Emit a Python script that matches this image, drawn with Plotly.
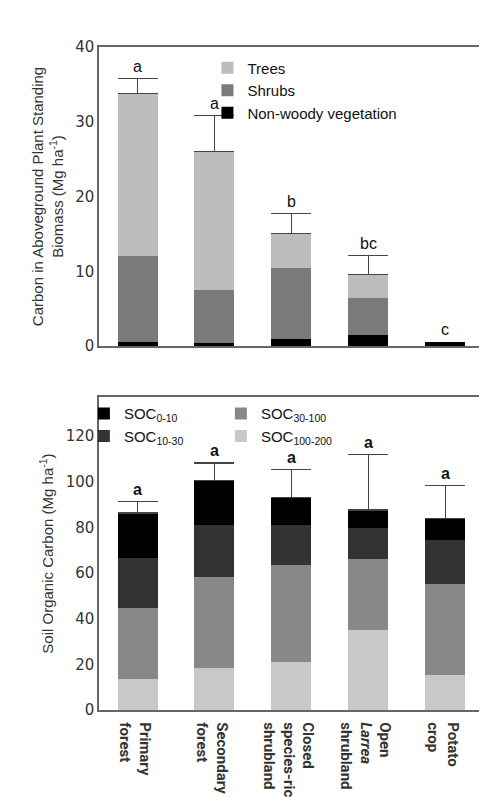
import plotly.graph_objects as go

cats = ["Primary<br>forest", "Secondary<br>forest", "Closed<br>species-rich<br>shrubland", "Open<br><i>Larrea</i><br>shrubland", "Potato<br>crop"]
nonwoody = [0.5, 0.4, 0.9, 1.5, 0.6]
shrubs = [11.6, 7.1, 9.6, 4.9, 0.0]
trees = [21.7, 18.5, 4.6, 3.2, 0.0]
top_err = [2.0, 4.8, 2.6, 2.5, 0.0]
top_letters = ["a", "a", "b", "bc", "c"]

soc_100_200 = [13.7, 18.2, 20.8, 35.0, 15.5]
soc_30_100 = [31.0, 40.0, 42.7, 31.2, 39.6]
soc_10_30 = [22.0, 22.9, 17.5, 13.4, 19.2]
soc_0_10 = [19.6, 19.5, 12.0, 8.0, 9.5]
soc_err = [5.1, 7.6, 12.3, 24.4, 14.4]
soc_letters = ["a", "a", "a", "a", "a"]

fig = go.Figure()
tick_font = dict(family="DejaVu Sans", size=15, color="#333")
cat_font = dict(family="Roboto", size=15, color="#333", weight="bold")

def add(y, name, color, xa, ya, legend, err=None, rank=None):
    kw = {}
    if err is not None:
        kw["error_y"] = dict(type="data", array=[e if e > 0 else float("nan") for e in err],
                             arrayminus=[0]*len(err), symmetric=False,
                             color="#444", thickness=1.2, width=20, visible=True)
    fig.add_trace(go.Bar(x=cats, y=[v if v > 0 else None for v in y], name=name,
                         marker=dict(color=color, line=dict(width=0)),
                         xaxis=xa, yaxis=ya, legend=legend, width=0.52,
                         legendrank=rank if rank else 1000, **kw))

add(nonwoody, "Non-woody vegetation", "#000000", "x", "y", "legend", rank=3)
add(shrubs, "Shrubs", "#7a7a7a", "x", "y", "legend", rank=2)
add(trees, "Trees", "#bdbdbd", "x", "y", "legend", err=top_err, rank=1)

add(soc_100_200, "SOC<sub>100-200</sub>", "#c8c8c8", "x2", "y2", "legend2", rank=4)
add(soc_30_100, "SOC<sub>30-100</sub>", "#888888", "x2", "y2", "legend2", rank=2)
add(soc_10_30, "SOC<sub>10-30</sub>", "#333333", "x2", "y2", "legend2", rank=3)
add(soc_0_10, "SOC<sub>0-10</sub>", "#000000", "x2", "y2", "legend2", err=soc_err, rank=1)

for i, c in enumerate(cats):
    t = nonwoody[i] + shrubs[i] + trees[i] + top_err[i]
    fig.add_annotation(x=c, y=t, text=top_letters[i], xref="x", yref="y", showarrow=False,
                       yshift=12, font=dict(family="Liberation Sans", size=16, color="#111"))
    s = soc_100_200[i] + soc_30_100[i] + soc_10_30[i] + soc_0_10[i] + soc_err[i]
    fig.add_annotation(x=c, y=s, text=soc_letters[i], xref="x2", yref="y2", showarrow=False,
                       yshift=12, font=dict(family="Liberation Sans", size=16, color="#111", weight="bold"))

ax = dict(showline=True, linecolor="#666", linewidth=1.5, mirror=True, ticks="", showgrid=False,
          zeroline=False)
fig.update_layout(
    width=487, height=798, margin=dict(l=0, r=0, t=0, b=0), barmode="stack",
    plot_bgcolor="white", paper_bgcolor="white",
    xaxis=dict(domain=[0.187, 0.977], anchor="y", showticklabels=False, **ax),
    yaxis=dict(domain=[0.5714, 0.9612], anchor="x", range=[0, 40], dtick=10, tickfont=tick_font,
               title=dict(text="Carbon in Aboveground Plant Standing<br>Biomass (Mg ha<sup>-1</sup>)",
                          font=dict(family="Liberation Sans", size=15, color="#333"), standoff=8), **ax),
    xaxis2=dict(domain=[0.187, 0.977], anchor="y2", tickfont=cat_font, **ax),
    yaxis2=dict(domain=[0.0977, 0.505], anchor="x2", range=[0, 137], dtick=20, tickfont=tick_font,
                title=dict(text="Soil Organic Carbon (Mg ha<sup>-1</sup>)",
                           font=dict(family="Liberation Sans", size=15, color="#333"), standoff=8), **ax),
    legend=dict(x=0.565, y=0.955, xanchor="left", yanchor="top", bgcolor="rgba(0,0,0,0)",
                font=dict(family="Liberation Sans", size=15, color="#111"), traceorder="normal",
                tracegroupgap=0, itemsizing="constant"),
    legend2=dict(x=0.215, y=0.505, xanchor="left", yanchor="top", orientation="h", entrywidth=92,
                 bgcolor="rgba(0,0,0,0)", font=dict(family="Liberation Sans", size=15, color="#111"),
                 traceorder="normal", tracegroupgap=0),
    showlegend=True,
)
fig.write_html("out.html")
